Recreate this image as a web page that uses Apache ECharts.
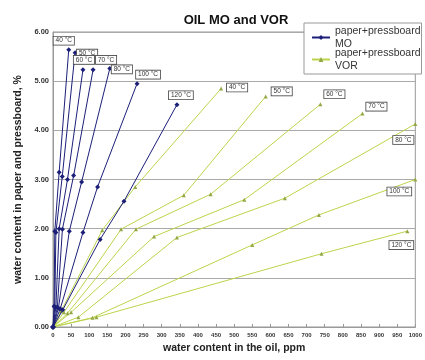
<!DOCTYPE html>
<html><head><meta charset="utf-8">
<script src="https://cdn.jsdelivr.net/npm/echarts@6/dist/echarts.min.js"></script>
<style>html,body{margin:0;padding:0;background:#fff}#c{width:425px;height:360px}</style>
</head><body><div id="c"></div>
<script>
// Temperature labels
const temps = ['40 °C','50 °C','60 °C','70 °C','80 °C','100 °C','120 °C'];
// Tick labels
const xTicks = [0,50,100,150,200,250,300,350,400,450,500,550,600,650,700,750,800,850,900,950,1000];
const yTicks = [0,1,2,3,4,5,6];

// paper+pressboard MO: [water in oil ppm, water in paper %]
const mo40  = [[0,0],[3,0.42],[5,1.95],[17,3.15],[43.5,5.64]];
const mo50  = [[0,0],[5,0.40],[8,1.92],[25.5,3.06],[61,5.58]];
const mo60  = [[0,0],[8,0.40],[17,2.0],[40,3.0],[82.6,5.23]];
const mo70  = [[0,0],[12,0.40],[26,1.99],[57,3.08],[110.6,5.23]];
const mo80  = [[0,0],[15,0.38],[45,1.95],[79,2.95],[156.8,5.26]];
const mo100 = [[0,0],[20,0.37],[82.6,1.92],[123,2.85],[232,4.95]];
const mo120 = [[0,0],[27,0.35],[130,1.78],[196,2.56],[342,4.52]];

// paper+pressboard VOR
const vor40  = [[0,0],[22,0.32],[136,1.97],[227,2.85],[464,4.85]];
const vor50  = [[0,0],[30,0.30],[188,1.99],[361,2.68],[587,4.69]];
const vor60  = [[0,0],[40,0.28],[229,1.99],[435,2.70],[738,4.53]];
const vor70  = [[0,0],[50,0.30],[279,1.84],[528,2.59],[854,4.34]];
const vor80  = [[0,0],[70,0.20],[342,1.82],[640,2.62],[1000,4.13]];
const vor100 = [[0,0],[109,0.19],[550,1.67],[734,2.28],[1000,3.0]];
const vor120 = [[0,0],[120,0.20],[741,1.49],[978,1.95]];

const moSets = [mo40,mo50,mo60,mo70,mo80,mo100,mo120];
const vorSets = [vor40,vor50,vor60,vor70,vor80,vor100,vor120];

// label offsets (style only)
const moOff = [[-5,-9],[12,1],[1,-10],[13,-10],[12,1],[11,-9],[4,-9.5]];
const vorOff = [[16,-1],[16,-5],[14,-10],[14,-7],[-12,16],[-16,12],[-6,14]];

const MO_COLOR = '#1c1f78';
const VOR_LINE = '#bcd44c';
const VOR_MARK = '#92a844';
const FONT = 'Liberation Sans, Arial, sans-serif';
const MO_NAME = 'paper+pressboard\nMO';
const VOR_NAME = 'paper+pressboard\nVOR';

function tagLabel(off){
  return {show:true, position:'inside', offset:off, formatter:'{b}',
    fontSize:6.5, fontFamily:FONT, color:'#333', backgroundColor:'#fff',
    borderColor:'#444', borderWidth:0.8, padding:[1,2,0,2]};
}
function build(set, idx, off){
  return set.map((p,i)=> i===set.length-1
    ? {name:temps[idx], value:p, label:tagLabel(off)}
    : {name:temps[idx], value:p});
}
const series = [];
moSets.forEach((s,i)=>series.push({
  name:MO_NAME, type:'line', data:build(s,i,moOff[i]),
  symbol:'diamond', symbolSize:5, z:3,
  lineStyle:{color:MO_COLOR,width:1}, itemStyle:{color:MO_COLOR},
  emphasis:{disabled:true}
}));
vorSets.forEach((s,i)=>series.push({
  name:VOR_NAME, type:'line', data:build(s,i,vorOff[i]),
  symbol:'triangle', symbolSize:4, z:2,
  lineStyle:{color:VOR_LINE,width:1}, itemStyle:{color:VOR_MARK},
  emphasis:{disabled:true}
}));

const chart = echarts.init(document.getElementById('c'), null, {renderer:'canvas'});
chart.setOption({
  animation:false,
  backgroundColor:'#fff',
  title:{text:'OIL MO and VOR', left:231, top:9, textAlign:'center',
    textStyle:{fontSize:13, fontWeight:'bold', fontFamily:FONT, color:'#111'}},
  legend:{
    data:[MO_NAME, VOR_NAME],
    left:304, top:23, orient:'vertical', itemGap:-3, itemWidth:18, itemHeight:6,
    backgroundColor:'#fff', borderColor:'#999', borderWidth:1, padding:[2,1,2,7],
    textStyle:{fontSize:10.5, fontFamily:FONT, color:'#333', lineHeight:12.5},
    z:10
  },
  grid:{left:53, right:4, top:32, bottom:33, show:true, borderColor:'#999', borderWidth:1},
  xAxis:{type:'value', min:0, max:1000, interval:50,
    name:'water content in the oil, ppm', nameLocation:'middle', nameGap:13,
    nameTextStyle:{fontSize:10.5, fontWeight:'bold', fontFamily:FONT, color:'#222'},
    axisLine:{lineStyle:{color:'#999'}}, axisTick:{show:true, inside:true, length:3, lineStyle:{color:'#999'}},
    axisLabel:{fontSize:6, fontFamily:FONT, color:'#333', margin:5, fontWeight:'bold',
      formatter:v=> xTicks.includes(v)? String(v):''},
    splitLine:{show:false}},
  yAxis:{type:'value', min:0, max:6, interval:1,
    name:'water content in paper and pressboard, %', nameLocation:'middle', nameGap:29,
    nameTextStyle:{fontSize:10.5, fontWeight:'bold', fontFamily:FONT, color:'#222'},
    axisLine:{show:true, lineStyle:{color:'#999'}}, axisTick:{show:false},
    axisLabel:{fontSize:7.5, fontFamily:FONT, color:'#333', margin:4, fontWeight:'bold',
      formatter:v=> yTicks.includes(v)? v.toFixed(2):''},
    splitLine:{show:true, lineStyle:{color:'#aaa', width:1}}},
  series:series
});
</script></body></html>
